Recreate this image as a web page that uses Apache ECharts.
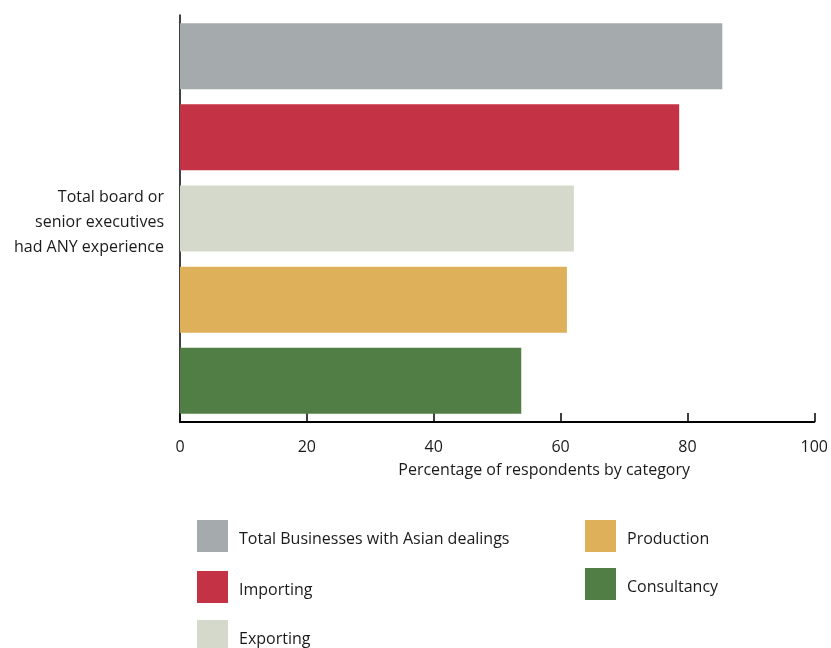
<!DOCTYPE html>
<html>
<head>
<meta charset="utf-8">
<script src="https://cdn.jsdelivr.net/npm/echarts@6/dist/echarts.min.js"></script>
<style>
  html, body { margin: 0; padding: 0; background: #fff; }
  #chart { width: 831px; height: 648px; }
</style>
</head>
<body>
<div id="chart"></div>
<script>
// Share of respondents whose board or senior executives had any Asian experience
const categories = ['Total board or\nsenior executives\nhad ANY experience'];
const seriesNames = [
  'Total Businesses with Asian dealings',
  'Importing',
  'Exporting',
  'Production',
  'Consultancy'
];
const seriesValues = [85.5, 78.7, 62.1, 61.0, 53.8];
const seriesColors = ['#a5aaac', '#c43245', '#d5d9cb', '#dfb05a', '#507e45'];
const xTicks = [0, 20, 40, 60, 80, 100];

const FONT = 'Open Sans';
const TEXT = '#1a1a1a';
const chart = echarts.init(document.getElementById('chart'));

const series = seriesNames.map((name, i) => ({
  name: name,
  type: 'bar',
  data: [seriesValues[i]],
  barWidth: 66,
  barGap: '23%',
  itemStyle: { color: seriesColors[i] },
  emphasis: { disabled: true }
}));

// one legend box per entry, laid out in two columns
const legendSpots = [
  { left: 197, top: 520 },
  { left: 197, top: 571 },
  { left: 197, top: 620 },
  { left: 585, top: 520 },
  { left: 585, top: 568 }
];
const legends = seriesNames.map((name, i) => ({
  orient: 'vertical',
  left: legendSpots[i].left,
  top: legendSpots[i].top,
  padding: 0,
  icon: 'rect',
  itemWidth: 31,
  itemHeight: 32,
  itemGap: 0,
  selectedMode: false,
  formatter: n => '{t|' + n + '}',
  textStyle: {
    fontFamily: FONT, fontSize: 16, color: TEXT, padding: [0, 0, 0, 6],
    rich: { t: { fontFamily: FONT, fontSize: 16, color: TEXT, padding: [6, 0, 0, 0] } }
  },
  data: [name]
}));

chart.setOption({
  animation: false,
  backgroundColor: '#ffffff',
  grid: { left: 180, right: 15, top: 15, bottom: 226, containLabel: false },
  xAxis: {
    type: 'value',
    min: xTicks[0],
    max: xTicks[xTicks.length - 1],
    interval: 20,
    name: 'Percentage of respondents by category',
    nameLocation: 'middle',
    nameGap: 40,
    nameTextStyle: { fontFamily: FONT, fontSize: 16, color: TEXT, padding: [0, 0, 0, 94] },
    axisLine: { show: true, lineStyle: { color: '#000', width: 2 } },
    axisTick: { show: true, inside: true, length: 9, lineStyle: { color: '#000', width: 1.5 } },
    axisLabel: { fontFamily: FONT, fontSize: 16, color: TEXT, margin: 17 },
    splitLine: { show: false }
  },
  yAxis: {
    type: 'category',
    data: categories,
    inverse: true,
    axisLine: { show: true, lineStyle: { color: '#000', width: 1.5 } },
    axisTick: { show: false },
    axisLabel: {
      align: 'right', margin: 16,
      // a thin leading spacer line nudges the three-line label down a little
      formatter: v => '{s| }\n' + v.split('\n').map(l => '{l|' + l + '}').join('\n'),
      rich: {
        s: { fontSize: 1, lineHeight: 8 },
        l: { fontFamily: FONT, fontSize: 16, color: TEXT, lineHeight: 25, align: 'right' }
      }
    }
  },
  legend: legends,
  series: series
});
</script>
</body>
</html>
